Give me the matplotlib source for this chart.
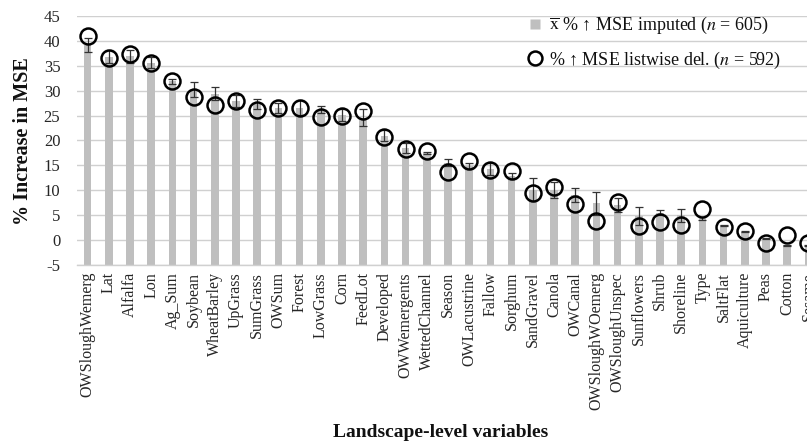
import matplotlib
matplotlib.use("Agg")
import matplotlib.pyplot as plt
from matplotlib.lines import Line2D
import numpy as np

plt.rcParams['font.family'] = ['Liberation Serif', 'DejaVu Serif']
plt.rcParams['mathtext.fontset'] = 'stix'

categories = ["OWSloughWemerg", "Lat", "Alfalfa", "Lon", "Ag_Sum", "Soybean",
              "WheatBarley", "UpGrass", "SumGrass", "OWSum", "Forest", "LowGrass",
              "Corn", "FeedLot", "Developed", "OWWemergents", "WettedChannel",
              "Season", "OWLacustrine", "Fallow", "Sorghum", "SandGravel", "Canola",
              "OWCanal", "OWSloughWOemerg", "OWSloughUnspec", "Sunflowers", "Shrub",
              "Shoreline", "Type", "SaltFlat", "Aquiculture", "Peas", "Cotton", "Sesame"]

imputed_mean = [39.2, 36.8, 36.9, 35.6, 31.85, 30.3, 29.4, 27.9, 27.3, 26.5, 26.6, 26.2,
                25.1, 24.6, 21.0, 18.4, 17.5, 15.5, 14.85, 14.3, 12.85, 10.1, 10.1,
                9.0, 7.4, 7.1, 4.8, 5.5, 4.95, 4.35, 3.0, 1.7, 0.35, -1.0, -1.0]
imputed_sd = [1.4, 1.3, 1.3, 1.1, 0.5, 1.5, 1.3, 1.2, 1.0, 1.05, 1.5, 0.7,
              1.2, 1.7, 1.2, 1.0, 0.25, 0.7, 0.55, 1.2, 0.65, 2.3, 1.6,
              1.4, 2.3, 1.4, 1.8, 0.5, 1.25, 0.35, 0.1, 0.1, 0.1, 0.1, 0.1]
listwise = [41.0, 36.6, 37.3, 35.5, 31.9, 28.8, 27.1, 27.9, 26.1, 26.5, 26.6, 24.7,
            24.9, 25.9, 20.8, 18.3, 17.95, 13.75, 15.95, 14.0, 13.95, 9.4, 10.7,
            7.2, 3.8, 7.7, 2.8, 3.7, 3.0, 6.3, 2.7, 1.9, -0.5, 1.1, -0.5]
yticks = list(range(-5, 50, 5))

W, H = 807, 444
fig = plt.figure(figsize=(W / 100, H / 100), dpi=100)
left, right, top, bottom = 77, 819, 16, 265
ax = fig.add_axes([left / W, 1 - bottom / H, (right - left) / W, (bottom - top) / H])

x = np.arange(len(categories))
base = -5
ax.bar(x, np.array(imputed_mean) - base, bottom=base, width=0.35,
       color='#BFBFBF', edgecolor='none', zorder=2)
ax.errorbar(x, imputed_mean, yerr=imputed_sd, fmt='none', ecolor='#333333',
            elinewidth=0.9, capsize=3, capthick=0.9, zorder=3)
ax.plot(x, listwise, linestyle='none', marker='o', markersize=11.5,
        markerfacecolor='none', markeredgecolor='black', markeredgewidth=1.8, zorder=4)

ax.set_ylim(-5, 45)
ax.set_xlim(-0.5, len(categories) - 0.5)
ax.set_yticks(yticks)
ax.set_yticklabels([str(t) for t in yticks])
ax.set_xticks(x)
ax.set_xticklabels(categories, rotation=90, va='top', ha='center')
ax.tick_params(axis='y', length=0, pad=12, labelsize=12, colors='#262626')
ax.tick_params(axis='x', length=0, pad=5, labelsize=11.5, colors='#262626')
ax.grid(axis='y', color='#D0D0D0', linewidth=1.0, zorder=0)
ax.set_axisbelow(True)
for s in ['top', 'right', 'left']:
    ax.spines[s].set_visible(False)
ax.spines['bottom'].set_color('#D0D0D0')
ax.spines['bottom'].set_linewidth(1.0)

fig.text(441 / W, 1 - 432 / H, 'Landscape-level variables', ha='center', va='center',
         fontsize=14, fontweight='bold', color='#111111')
fig.text(23 / W, 1 - 141 / H, '% Increase in MSE', ha='center', va='center',
         rotation=90, fontsize=14.5, fontweight='bold', color='#111111')

handles = [Line2D([], [], linestyle='none', marker='s', markersize=7,
                  markerfacecolor='#BFBFBF', markeredgecolor='none'),
           Line2D([], [], linestyle='none', marker='o', markersize=10,
                  markerfacecolor='none', markeredgecolor='black', markeredgewidth=1.8)]
labels = [r'$\overline{\mathrm{x}}$ % ↑ MSE imputed ($n$ = 605)',
          r'% ↑ MSE listwise del. ($n$ = 592)']
leg = ax.legend(handles, labels, loc='upper left', bbox_to_anchor=(526 / W, 1 - 15 / H),
                bbox_transform=fig.transFigure, frameon=False, borderaxespad=0,
                borderpad=0, handlelength=1.0, handletextpad=0.3, labelspacing=0.75,
                prop={'size': 13})
for t in leg.get_texts():
    t.set_color('#111111')

fig.savefig('out.png', dpi=100)
